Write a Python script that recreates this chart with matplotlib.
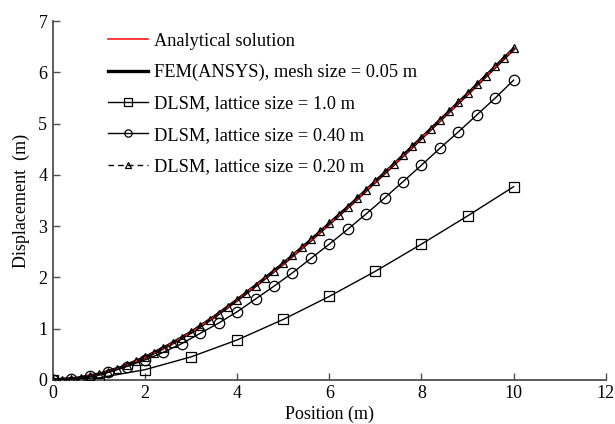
"""Displacement along the beam: analytical vs FEM vs DLSM with three lattice sizes."""
import matplotlib
matplotlib.use("Agg")
import matplotlib.pyplot as plt

# analytical solution / FEM (0.5 m steps)
x_ana = [0, 0.5, 1.0, 1.5, 2.0, 2.5, 3.0, 3.5, 4.0, 4.5, 5.0,
         5.5, 6.0, 6.5, 7.0, 7.5, 8.0, 8.5, 9.0, 9.5, 10.0]
y_ana = [0, 0.03, 0.11, 0.25, 0.44, 0.67, 0.93, 1.23, 1.56, 1.91, 2.27,
         2.65, 3.05, 3.45, 3.87, 4.29, 4.72, 5.15, 5.58, 6.02, 6.46]
y_fem = [0, 0.03, 0.11, 0.25, 0.44, 0.67, 0.93, 1.23, 1.56, 1.91, 2.27,
         2.65, 3.05, 3.45, 3.87, 4.29, 4.72, 5.15, 5.58, 6.02, 6.46]

# DLSM, lattice 1.0 m
x_d10 = [0, 1, 2, 3, 4, 5, 6, 7, 8, 9, 10]
y_d10 = [0, 0.04, 0.20, 0.45, 0.78, 1.18, 1.63, 2.12, 2.65, 3.20, 3.77]

# DLSM, lattice 0.40 m
x_d04 = [0, 0.4, 0.8, 1.2, 1.6, 2.0, 2.4, 2.8, 3.2, 3.6, 4.0, 4.4, 4.8,
         5.2, 5.6, 6.0, 6.4, 6.8, 7.2, 7.6, 8.0, 8.4, 8.8, 9.2, 9.6, 10.0]
y_d04 = [0, 0.02, 0.07, 0.15, 0.26, 0.39, 0.54, 0.71, 0.91, 1.11, 1.33, 1.58, 1.83,
         2.09, 2.37, 2.65, 2.94, 3.24, 3.55, 3.87, 4.19, 4.52, 4.84, 5.17, 5.50, 5.85]

# DLSM, lattice 0.20 m
x_d02 = [0, 0.2, 0.4, 0.6, 0.8, 1.0, 1.2, 1.4, 1.6, 1.8, 2.0, 2.2, 2.4, 2.6, 2.8,
         3.0, 3.2, 3.4, 3.6, 3.8, 4.0, 4.2, 4.4, 4.6, 4.8, 5.0, 5.2, 5.4, 5.6, 5.8,
         6.0, 6.2, 6.4, 6.6, 6.8, 7.0, 7.2, 7.4, 7.6, 7.8, 8.0, 8.2, 8.4, 8.6, 8.8,
         9.0, 9.2, 9.4, 9.6, 9.8, 10.0]
y_d02 = [0, 0.005, 0.02, 0.04, 0.07, 0.11, 0.16, 0.22, 0.29, 0.36, 0.44, 0.53, 0.62, 0.72, 0.82,
         0.93, 1.05, 1.17, 1.29, 1.42, 1.56, 1.70, 1.84, 1.98, 2.13, 2.28, 2.43, 2.59, 2.74, 2.90,
         3.06, 3.22, 3.38, 3.55, 3.71, 3.88, 4.05, 4.22, 4.39, 4.56, 4.73, 4.90, 5.07, 5.25, 5.42,
         5.59, 5.77, 5.94, 6.12, 6.29, 6.47]

labels = ["Analytical solution", "FEM(ANSYS), mesh size = 0.05 m",
          "DLSM, lattice size = 1.0 m", "DLSM, lattice size = 0.40 m",
          "DLSM, lattice size = 0.20 m"]
x_ticks = [0, 2, 4, 6, 8, 10, 12]
y_ticks = [0, 1, 2, 3, 4, 5, 6, 7]

plt.rcParams["font.family"] = ["Liberation Serif", "DejaVu Serif"]

fig = plt.figure(figsize=(6.15, 4.24), dpi=100)
ax = fig.add_axes([0.086, 0.104, 0.899, 0.846])

h_fem, = ax.plot(x_ana, y_fem, color="black", lw=2.4, zorder=2)
h_ana, = ax.plot(x_ana, y_ana, color="#ff1a1a", lw=1.2, zorder=3)
h_d10, = ax.plot(x_d10, y_d10, color="black", lw=1.0, marker="s", ms=7.5,
                 mfc="none", mew=0.9, zorder=4)
h_d04, = ax.plot(x_d04, y_d04, color="black", lw=1.0, marker="o", ms=7.5,
                 mfc="none", mew=0.9, zorder=4)
h_d02, = ax.plot(x_d02, y_d02, color="black", lw=1.0, ls=(0, (4, 3)), marker="^",
                 ms=5.5, mfc="none", mew=0.9, zorder=5)

ax.set_xlim(0, 12)
ax.set_ylim(0, 7)
ax.set_xticks(x_ticks)
ax.set_yticks(y_ticks)
ax.tick_params(direction="in", length=5, width=1.0, color="#505050",
               labelsize=13, pad=4)
for side in ("top", "right"):
    ax.spines[side].set_visible(False)
for side in ("left", "bottom"):
    ax.spines[side].set_color("#505050")
    ax.spines[side].set_linewidth(1.3)

ax.set_xlabel("Position (m)", fontsize=13, labelpad=2)
ax.set_ylabel("Displacement  (m)", fontsize=13, labelpad=6)

ax.legend([h_ana, h_fem, h_d10, h_d04, h_d02], labels, loc="upper left",
          bbox_to_anchor=(0.069, 1.014), frameon=False, fontsize=13.2,
          handlelength=2.2, handletextpad=0.35, labelspacing=0.78,
          markerscale=0.7)

fig.savefig("out.png", dpi=100)
plt.close(fig)
